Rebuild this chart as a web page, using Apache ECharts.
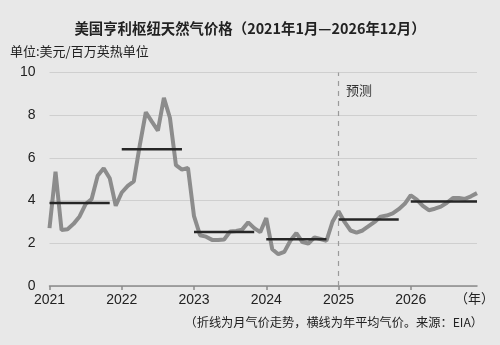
<!DOCTYPE html>
<html>
<head>
<meta charset="utf-8">
<script src="https://cdn.jsdelivr.net/npm/echarts@6/dist/echarts.min.js"></script>
<style>
  html, body { margin: 0; padding: 0; background: #e8e8e8; }
  #chart { width: 500px; height: 345px; }
</style>
</head>
<body>
<div id="chart"></div>
<script>
// Henry Hub monthly prices, USD/MMBtu, Jan 2021 .. Dec 2026 (2025-2026 forecast)
const years = [2021, 2022, 2023, 2024, 2025, 2026];
const price2021 = [2.71, 5.35, 2.62, 2.66, 2.91, 3.26, 3.84, 4.07, 5.16, 5.51, 5.05, 3.76];
const price2022 = [4.38, 4.69, 4.90, 6.60, 8.14, 7.70, 7.28, 8.81, 7.88, 5.66, 5.45, 5.53];
const price2023 = [3.27, 2.38, 2.31, 2.16, 2.15, 2.18, 2.55, 2.58, 2.64, 2.98, 2.71, 2.52];
const price2024 = [3.18, 1.72, 1.49, 1.60, 2.12, 2.48, 2.06, 1.99, 2.28, 2.20, 2.12, 3.01];
const price2025 = [3.50, 3.00, 2.60, 2.50, 2.60, 2.80, 3.00, 3.25, 3.30, 3.40, 3.60, 3.85];
const price2026 = [4.25, 4.05, 3.75, 3.55, 3.62, 3.72, 3.90, 4.12, 4.12, 4.08, 4.20, 4.35];
// Annual average prices
const annualAvg = [3.89, 6.40, 2.53, 2.19, 3.12, 3.96];
// Months covered by each annual-average bar (start month, end month within the year)
const avgSpanMonths = [[0, 10], [0, 10], [0, 10], [0, 10], [0, 10], [0, 11]];
const forecastStartYear = 2025;
const yTicks = [0, 2, 4, 6, 8, 10];

const monthly = [price2021, price2022, price2023, price2024, price2025, price2026];
const lineData = [];
monthly.forEach((arr, yi) => arr.forEach((v, m) => lineData.push([yi * 12 + m, v])));

const avgSeries = annualAvg.map((v, yi) => ({
  type: 'line',
  data: [[yi * 12 + avgSpanMonths[yi][0], v], [yi * 12 + avgSpanMonths[yi][1], v]],
  symbol: 'none',
  lineStyle: { color: '#262626', width: 2.5 },
  z: 4,
  silent: true
}));

const font = '"Noto Sans CJK SC", "Noto Sans", sans-serif';
const chart = echarts.init(document.getElementById('chart'));
chart.setOption({
  backgroundColor: '#e8e8e8',
  animation: false,
  textStyle: { fontFamily: font },
  title: {
    text: '美国亨利枢纽天然气价格（2021年1月—2026年12月）',
    left: 'center',
    top: 16,
    textStyle: { fontFamily: font, fontSize: 14.4, fontWeight: 'bold', color: '#222' }
  },
  grid: { left: 49.5, right: 23, top: 72.5, bottom: 59, containLabel: false, outerBoundsMode: 'none' },
  xAxis: {
    type: 'value',
    min: 0,
    max: 71,
    interval: 12,
    axisLine: { show: true, lineStyle: { color: '#8a8a8a', width: 1.5 } },
    axisTick: { show: true, length: 4, lineStyle: { color: '#8a8a8a', width: 1.5 } },
    splitLine: { show: false },
    axisLabel: {
      color: '#222', fontSize: 14, margin: 7, fontFamily: 'Liberation Sans, Arial, sans-serif',
      showMaxLabel: false,
      formatter: v => (v % 12 === 0 && years[v / 12] !== undefined) ? String(years[v / 12]) : ''
    }
  },
  yAxis: {
    type: 'value',
    min: yTicks[0],
    max: yTicks[yTicks.length - 1],
    interval: 2,
    axisLine: { show: false },
    axisTick: { show: false },
    splitLine: { lineStyle: { color: '#cfcfcf', width: 1.2 } },
    axisLabel: { color: '#222', fontSize: 14, margin: 14, fontFamily: 'Liberation Sans, Arial, sans-serif' }
  },
  series: [
    {
      type: 'line',
      data: lineData,
      symbol: 'none',
      lineStyle: { color: '#8c8c8c', width: 4 },
      z: 3,
      markLine: {
        silent: true,
        symbol: 'none',
        label: { show: false },
        lineStyle: { color: '#9a9a9a', type: [5, 5], width: 1.2 },
        data: [{ xAxis: (forecastStartYear - years[0]) * 12 }]
      }
    },
    ...avgSeries
  ],
  graphic: [
    {
      type: 'text', left: 10, top: 45,
      style: { text: '单位:美元/百万英热单位', fontSize: 13, fill: '#222', fontFamily: font }
    },
    {
      type: 'text', left: 346, top: 84,
      style: { text: '预测', fontSize: 13, fill: '#333', fontFamily: font }
    },
    {
      type: 'text', left: 455, top: 292,
      style: { text: '（年）', fontSize: 13, fill: '#222', fontFamily: font }
    },
    {
      type: 'text', right: 17, top: 316,
      style: { text: '（折线为月气价走势，横线为年平均气价。来源：EIA）', fontSize: 12.2, fill: '#222', fontFamily: font }
    }
  ]
});
</script>
</body>
</html>
